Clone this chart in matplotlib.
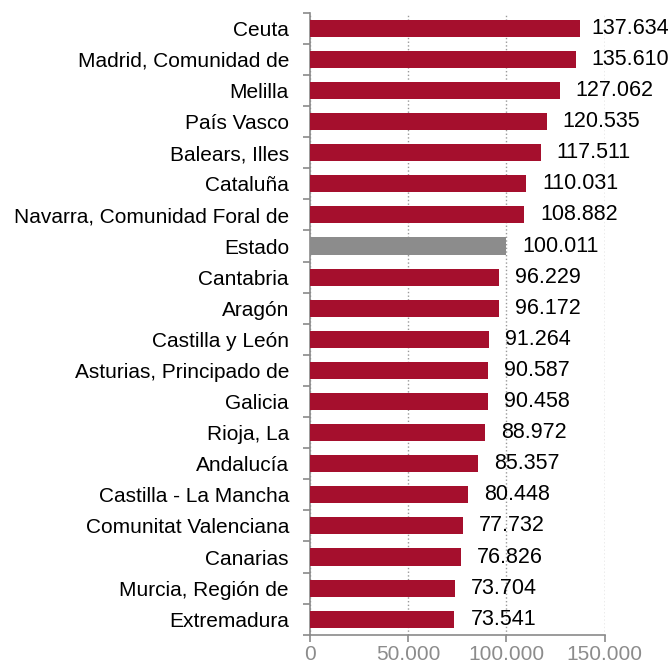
import numpy as np
import matplotlib.pyplot as plt
from matplotlib.ticker import FuncFormatter

# Data (top to bottom as in the chart)
regions = ['Ceuta', 'Madrid, Comunidad de', 'Melilla', 'País Vasco', 'Balears, Illes',
           'Cataluña', 'Navarra, Comunidad Foral de', 'Estado', 'Cantabria', 'Aragón',
           'Castilla y León', 'Asturias, Principado de', 'Galicia', 'Rioja, La',
           'Andalucía', 'Castilla - La Mancha', 'Comunitat Valenciana', 'Canarias',
           'Murcia, Región de', 'Extremadura']
values = [137634, 135610, 127062, 120535, 117511, 110031, 108882, 100011, 96229, 96172,
          91264, 90587, 90458, 88972, 85357, 80448, 77732, 76826, 73704, 73541]
x_ticks = [0, 50000, 100000, 150000]

RED = '#a50f2d'
GREY = '#8c8c8c'
AXIS = '#8a8a8a'


def fmt_es(v):
    return f'{int(v):,}'.replace(',', '.')


plt.rcParams['font.family'] = ['Liberation Sans', 'DejaVu Sans']

W, H = 669, 671
fig = plt.figure(figsize=(W / 100, H / 100), dpi=100)
ax_left, ax_width = 0.463, 0.441
ax = fig.add_axes([ax_left, 0.054, ax_width, 0.927])

n = len(regions)
ypos = np.arange(n)[::-1]
colors = [GREY if r == 'Estado' else RED for r in regions]
ax.barh(ypos, values, height=0.55, color=colors, zorder=3)

xmax = 150000
label_w = 74  # approx label width in px
for y, v in zip(ypos, values):
    end_px = W * (ax_left + ax_width * v / xmax)
    off_px = min(16, W - 4 - label_w - end_px)
    ax.annotate(fmt_es(v), (v, y), xytext=(off_px * 0.72, 0), textcoords='offset points',
                va='center', ha='left', fontsize=15.5, color='black', zorder=4)

ax.set_xlim(0, xmax)
ax.set_ylim(-0.5, n - 0.5)
ax.set_xticks(x_ticks)
ax.xaxis.set_major_formatter(FuncFormatter(lambda v, p: fmt_es(v)))
ax.set_yticks(ypos)
ax.set_yticklabels(regions, fontsize=15)
ax.set_yticks(np.arange(n + 1) - 0.5, minor=True)
ax.tick_params(axis='y', which='major', length=0, pad=15)
ax.tick_params(axis='y', which='minor', length=5, color=AXIS, width=1.2)
ax.tick_params(axis='x', length=5, color=AXIS, width=1.2, labelcolor=GREY,
               labelsize=15, pad=2.5)

ax.grid(axis='x', linestyle=':', color='#999999', linewidth=1, zorder=0)
for s in ['top', 'right']:
    ax.spines[s].set_visible(False)
for s in ['left', 'bottom']:
    ax.spines[s].set_color(AXIS)
    ax.spines[s].set_linewidth(1.2)

plt.savefig('out.png', dpi=100)
